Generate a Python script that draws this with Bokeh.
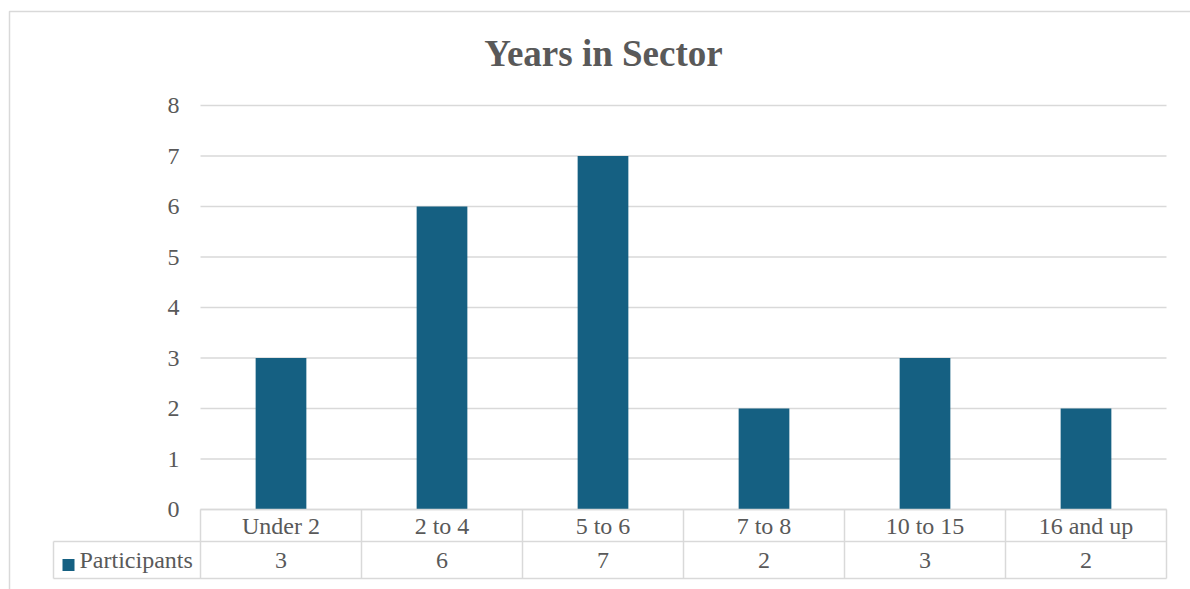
from bokeh.plotting import figure
from bokeh.models import Range1d
from bokeh.core.properties import value
from bokeh.embed import file_html
from bokeh.resources import INLINE

# ---- data ----
categories = ["Under 2", "2 to 4", "5 to 6", "7 to 8", "10 to 15", "16 and up"]
participants = [3, 6, 7, 2, 3, 2]
series_name = "Participants"
y_ticks = [0, 1, 2, 3, 4, 5, 6, 7, 8]
title_text = "Years in Sector"

# ---- layout (page pixels -> data units) ----
W, H = 1190, 589
PAGE_X0, PAGE_Y0 = 0, 0
PLOT_LEFT_PX, COL_W_PX = 200, 161.0
ZERO_PX, UNIT_PX = 509, 50.5
n = len(categories)

def px2x(px):
    return (px - PLOT_LEFT_PX) / COL_W_PX

def py2y(py):
    return (ZERO_PX - py) / UNIT_PX

TEXT = "#595959"
GRID = "#d9d9d9"
BAR = "#156082"
FONT = value("Liberation Serif")

p = figure(width=W, height=H, output_backend="svg", toolbar_location=None,
           x_range=Range1d(px2x(PAGE_X0), px2x(PAGE_X0 + W)),
           y_range=Range1d(py2y(PAGE_Y0 + H), py2y(PAGE_Y0)),
           min_border=0, tools="")
p.axis.visible = False
p.grid.visible = False
p.outline_line_color = None
p.background_fill_color = "white"
p.border_fill_color = "white"

# outer chart frame (top and left edges visible)
xl, yt = px2x(9), py2y(11)
p.line(x=[xl, xl, px2x(PAGE_X0 + W)], y=[py2y(PAGE_Y0 + H), yt, yt],
       line_color=GRID, line_width=1.5)

# horizontal gridlines
p.segment(x0=[0] * len(y_ticks), x1=[n] * len(y_ticks), y0=y_ticks, y1=y_ticks,
          line_color=GRID, line_width=1.3)

# y tick labels
p.text(x=[0] * len(y_ticks), y=y_ticks, text=[str(t) for t in y_ticks],
       x_offset=-21, text_align="right", text_baseline="middle",
       text_font=FONT, text_font_size="24px", text_color=TEXT)

# bars
centers = [i + 0.5 for i in range(n)]
p.vbar(x=centers, top=participants, bottom=0, width=0.315,
       fill_color=BAR, line_color=None)

# data table
row1 = py2y(541)
row2 = py2y(578)
leg_left = px2x(53)
p.segment(x0=[0, leg_left, leg_left], x1=[n, n, n], y0=[0, row1, row2], y1=[0, row1, row2],
          line_color=GRID, line_width=1.5)
vx = list(range(n + 1))
p.segment(x0=vx, x1=vx, y0=[0] * len(vx), y1=[row2] * len(vx),
          line_color=GRID, line_width=1.5)
p.segment(x0=[leg_left], x1=[leg_left], y0=[row1], y1=[row2],
          line_color=GRID, line_width=1.5)

p.text(x=centers, y=[(0 + row1) / 2] * n, text=categories,
       text_align="center", text_baseline="middle",
       text_font=FONT, text_font_size="24px", text_color=TEXT)
p.text(x=centers, y=[(row1 + row2) / 2] * n, text=[str(v) for v in participants],
       text_align="center", text_baseline="middle",
       text_font=FONT, text_font_size="24px", text_color=TEXT)

# legend key in the table
p.scatter(x=[px2x(68)], y=[py2y(564.5)], marker="square", size=12,
          fill_color=BAR, line_color=None)
p.text(x=[px2x(79)], y=[(row1 + row2) / 2], text=[series_name],
       text_align="left", text_baseline="middle",
       text_font=FONT, text_font_size="24px", text_color=TEXT)

# title
p.text(x=[px2x(603)], y=[py2y(53)], text=[title_text],
       text_align="center", text_baseline="middle",
       text_font=FONT, text_font_size="37px", text_font_style="bold",
       text_color=TEXT)

open("out.html", "w").write(file_html(p, INLINE))
